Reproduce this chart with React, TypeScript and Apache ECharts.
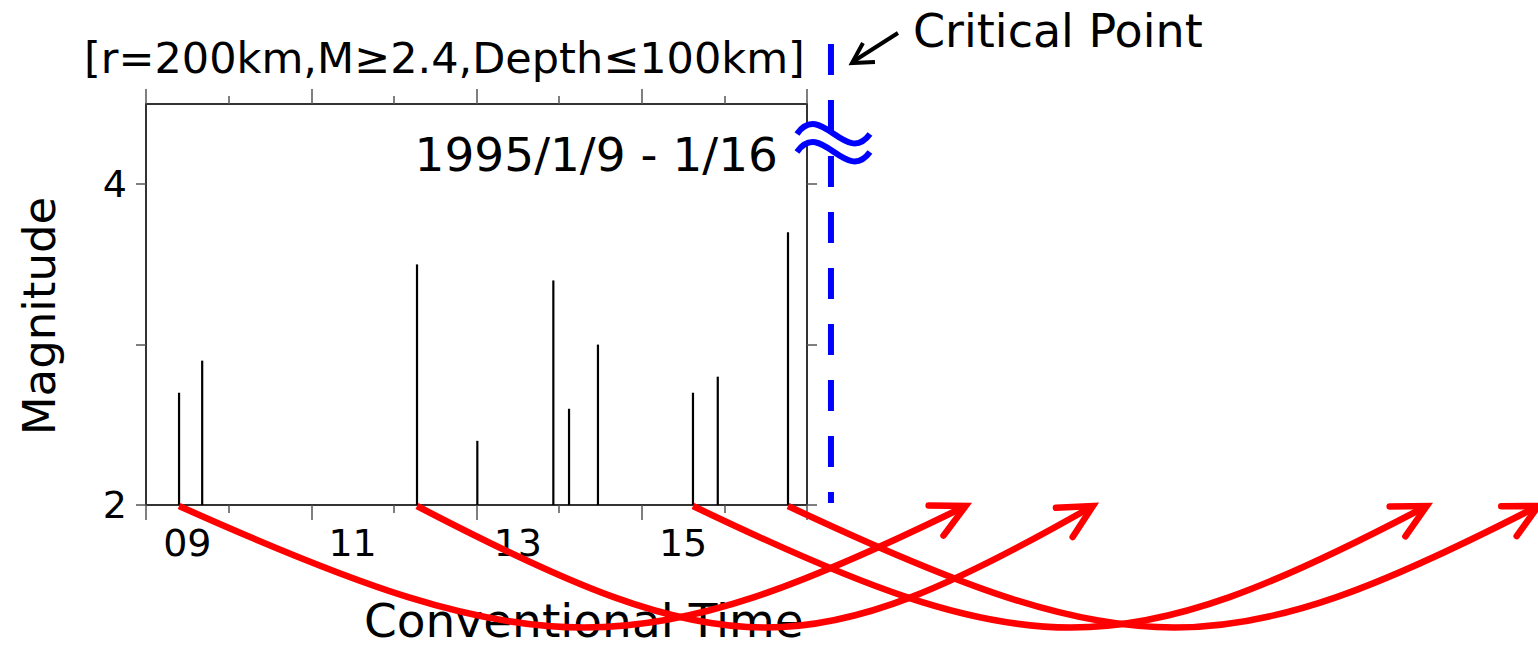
import React, { useEffect, useRef } from 'react';
import * as echarts from 'echarts';

// ---- data ----
const eventDays = [9.4, 9.68, 12.28, 13.01, 13.93, 14.12, 14.47, 15.62, 15.92, 16.77];
const magnitudes = [2.7, 2.9, 3.5, 2.4, 3.4, 2.6, 3.0, 2.7, 2.8, 3.7];
const xLabelValues = [9.5, 11.5, 13.5, 15.5];
const xLabelTexts = ['09', '11', '13', '15'];
const yLabelValues = [2, 4];
const yTickValues = [2, 3, 4];
const criticalDay = 17.29;
const arrowFromDays = [9.4, 12.28, 15.62, 16.77];
const arrowToDays = [18.92, 20.46, 24.5, 25.85];
const titleText = '[r=200km,M≥2.4,Depth≤100km]';
const periodText = '1995/1/9 - 1/16';
const criticalText = 'Critical Point';
const xAxisTitle = 'Conventional Time';
const yAxisTitle = 'Magnitude';

const FONT = '"DejaVu Sans", Verdana, sans-serif';
const AXIS_COLOR = '#333';
const TICK_COLOR = '#555';

function textEl(text: string, x: number, y: number, size: number, align: string, extra: any = {}) {
  return {
    type: 'text',
    x,
    y,
    z: 30,
    ...extra,
    style: {
      text,
      fontSize: size,
      fontFamily: FONT,
      fill: '#000',
      align,
      verticalAlign: 'middle',
      textAlign: align,
      textVerticalAlign: 'middle',
    },
  };
}

export default function App() {
  const ref = useRef<HTMLDivElement>(null);

  useEffect(() => {
    if (!ref.current) return;
    const chart = echarts.init(ref.current, undefined, { renderer: 'svg' });

    const xCommon = {
      type: 'value',
      min: 9,
      max: 17,
      interval: 2,
      splitLine: { show: false },
      minorSplitLine: { show: false },
      axisLine: { show: true, onZero: false, lineStyle: { color: AXIS_COLOR, width: 2 } },
      axisTick: { show: true, inside: false, length: 15, lineStyle: { color: TICK_COLOR, width: 1.5 } },
      minorTick: { show: true, splitNumber: 2, length: 8, lineStyle: { color: TICK_COLOR, width: 1.5 } },
    };
    const yCommon = {
      type: 'value',
      min: 2,
      max: 4.5,
      interval: 1,
      splitLine: { show: false },
      axisLine: { show: true, onZero: false, lineStyle: { color: AXIS_COLOR, width: 2 } },
      axisTick: { show: true, inside: false, length: 10, customValues: yTickValues, lineStyle: { color: TICK_COLOR, width: 1.5 } },
    };

    chart.setOption({
      animation: false,
      backgroundColor: '#fff',
      grid: { left: 146, top: 104, width: 661, height: 401, containLabel: false },
      xAxis: [
        {
          ...xCommon,
          position: 'bottom',
          axisLabel: {
            show: true,
            customValues: xLabelValues,
            formatter: (v: number) => {
              const i = xLabelValues.findIndex((t) => Math.abs(t - v) < 1e-6);
              return i >= 0 ? xLabelTexts[i] : '';
            },
            fontSize: 38,
            fontFamily: FONT,
            color: '#000',
            margin: 19,
          },
        },
        { ...xCommon, position: 'top', axisLabel: { show: false } },
      ],
      yAxis: [
        {
          ...yCommon,
          position: 'left',
          axisLabel: {
            show: true,
            customValues: yLabelValues,
            formatter: (v: number) => String(v),
            fontSize: 38,
            fontFamily: FONT,
            color: '#000',
            margin: 19,
          },
        },
        { ...yCommon, position: 'right', axisLabel: { show: false } },
      ],
      series: [
        {
          type: 'custom',
          xAxisIndex: 0,
          yAxisIndex: 0,
          silent: true,
          data: eventDays.map((d, i) => [d, magnitudes[i]]),
          renderItem: (params: any, api: any) => {
            const top = api.coord([api.value(0), api.value(1)]);
            const base = api.coord([api.value(0), 2]);
            return {
              type: 'line',
              shape: { x1: base[0], y1: base[1], x2: top[0], y2: top[1] },
              style: { stroke: '#000', lineWidth: 2.2 },
            };
          },
        },
      ],
    });

    const px = (d: number) => chart.convertToPixel({ xAxisIndex: 0 }, d) as number;
    const py = (m: number) => chart.convertToPixel({ yAxisIndex: 0 }, m) as number;

    const baseY = py(2);
    const cx = px(criticalDay);
    const elements: any[] = [];

    // texts
    elements.push(textEl(titleText, 84, 58, 43, 'left'));
    elements.push(textEl(periodText, 778, 154, 47, 'right'));
    elements.push(textEl(criticalText, 913, 31, 46, 'left'));
    elements.push(textEl(xAxisTitle, 364, 620, 47, 'left', { z: 5 }));
    elements.push(textEl(yAxisTitle, 39, 316, 45, 'center', { rotation: Math.PI / 2 }));

    // critical dashed line
    elements.push({
      type: 'line',
      z: 10,
      shape: { x1: cx, y1: 44, x2: cx, y2: baseY - 2 },
      style: { stroke: '#0000ff', lineWidth: 6, lineDash: [31, 25] },
    });

    // break symbol
    const wave = (dy: number, stroke: string, w: number, z: number) => ({
      type: 'bezierCurve',
      z,
      shape: {
        x1: cx - 34, y1: 134 + dy,
        cpx1: cx - 10, cpy1: 100 + dy,
        cpx2: cx + 15, cpy2: 167 + dy,
        x2: cx + 39, y2: 134 + dy,
      },
      style: { stroke, lineWidth: w, fill: null },
    });
    elements.push(wave(9, '#ffffff', 13, 11));
    elements.push(wave(0, '#0000ff', 6, 12));
    elements.push(wave(18, '#0000ff', 6, 12));

    // black pointer arrow
    elements.push({
      type: 'line',
      z: 12,
      shape: { x1: cx + 67, y1: 33, x2: cx + 23, y2: 61 },
      style: { stroke: '#000', lineWidth: 4 },
    });
    elements.push({
      type: 'polyline',
      z: 12,
      shape: { points: [[cx + 44, 62], [cx + 21, 63], [cx + 32, 43]] },
      style: { stroke: '#000', lineWidth: 4, fill: null, lineJoin: 'miter' },
    });

    // red curved arrows
    const H = 163;
    const wingLen = 37;
    const wingAng = (27 * Math.PI) / 180;
    arrowFromDays.forEach((fromD, i) => {
      const x0 = px(fromD);
      const x3 = px(arrowToDays[i]);
      const W = x3 - x0;
      const c1x = x0 + 0.46 * W;
      const c2x = x3 - 0.42 * W;
      elements.push({
        type: 'bezierCurve',
        z: 20,
        shape: {
          x1: x0, y1: baseY + 1,
          cpx1: c1x, cpy1: baseY + H,
          cpx2: c2x, cpy2: baseY + H,
          x2: x3, y2: baseY + 1,
        },
        style: { stroke: '#ff0000', lineWidth: 6.5, fill: null, lineCap: 'butt' },
      });
      // arrowhead
      const dx = x3 - c2x;
      const dy = -H;
      const len = Math.hypot(dx, dy);
      const rx = -dx / len;
      const ry = -dy / len;
      const rot = (a: number) => [rx * Math.cos(a) - ry * Math.sin(a), rx * Math.sin(a) + ry * Math.cos(a)];
      const w1 = rot(wingAng);
      const w2 = rot(-wingAng);
      elements.push({
        type: 'polyline',
        z: 21,
        shape: {
          points: [
            [x3 + w1[0] * wingLen, baseY + 1 + w1[1] * wingLen],
            [x3, baseY + 1],
            [x3 + w2[0] * wingLen, baseY + 1 + w2[1] * wingLen],
          ],
        },
        style: { stroke: '#ff0000', lineWidth: 6.5, fill: null, lineCap: 'round', lineJoin: 'miter' },
      });
    });

    chart.setOption({ graphic: { elements } });

    return () => chart.dispose();
  }, []);

  return (
    <div
      ref={ref}
      style={{ position: 'fixed', left: 0, top: 0, width: '1538px', height: '646px', background: '#fff' }}
    />
  );
}
